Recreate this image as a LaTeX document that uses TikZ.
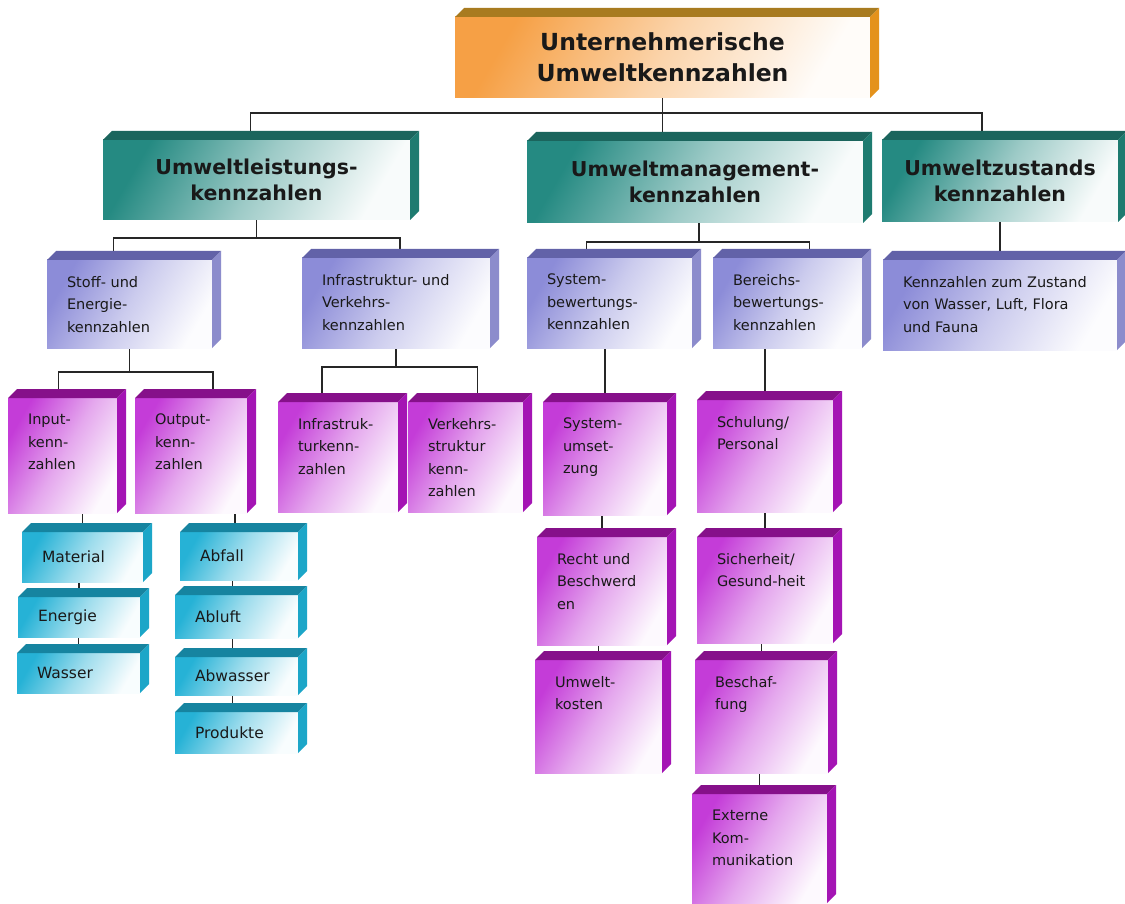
\documentclass[tikz,border=0pt]{standalone}
\usepackage{fontspec}
\setmainfont{DejaVu Sans}
\usetikzlibrary{calc,backgrounds}

\definecolor{orFront}{HTML}{F6A045}
\definecolor{orTop}{HTML}{A87B20}
\definecolor{orSide}{HTML}{E4921C}
\definecolor{teFront}{HTML}{258A82}
\definecolor{teTop}{HTML}{1B655D}
\definecolor{teSide}{HTML}{1E7B70}
\definecolor{lvFront}{HTML}{8C8CD8}
\definecolor{lvTop}{HTML}{6262A8}
\definecolor{lvSide}{HTML}{8C8CCC}
\definecolor{mgFront}{HTML}{C43CD8}
\definecolor{mgTop}{HTML}{86108A}
\definecolor{mgSide}{HTML}{A414B4}
\definecolor{cyFront}{HTML}{26B2D6}
\definecolor{cyTop}{HTML}{1684A0}
\definecolor{cySide}{HTML}{1CA6C8}

\begin{document}
\begin{tikzpicture}[x=1pt,y=-1pt,
	link/.style={draw=black!85, line width=1.7pt},
	face/.style={inner sep=0pt, outer sep=0pt, anchor=north west,
	  top color=#1, bottom color=#1!3!white, middle color=#1!45!white, shading angle=60},
	txt/.style={font=\fontsize{14.5}{22.5}\selectfont, text=black!90}]

	\useasboundingbox (0,0) rectangle (1125,904);

	\foreach \n/\xa/\ya/\xb/\yb/\col/\fs/\lbl in {
	    top/455/17/870/98/or/23.5/{Unternehmerische\\Umweltkennzahlen},
	    leist/103/140/410/220/te/20.5/{Umweltleistungs-\\kennzahlen},
	    mgmt/527/141/863/223/te/20.5/{Umweltmanagement-\\kennzahlen},
	    zust/882/140/1118/222/te/20.5/{Umweltzustands\\kennzahlen}}
	    {
		  \pgfmathsetmacro{\w}{\xb-\xa}%
		  \pgfmathsetmacro{\h}{\yb-\ya}%
		  \pgfmathsetmacro{\lh}{1.3*\fs}%
		  \node[face=\col Front, align=center, text=black!90,
		    font=\fontsize{\fs}{\lh}\selectfont\bfseries,
		    minimum width=\w pt, minimum height=\h pt] (\n) at (\xa,\ya) {\lbl};
		  \fill[\col Top] (\n.north west) -- ++(9,-9) -- ([shift={(9,-9)}]\n.north east) -- (\n.north east) -- cycle;
		  \fill[\col Side] (\n.north east) -- ++(9,-9) -- ([shift={(9,-9)}]\n.south east) -- (\n.south east) -- cycle;
	    }

	\foreach \n/\xa/\ya/\xb/\yb/\col/\lbl in {
	    stoff/47/260/212/348/lv/{Stoff- und\\Energie-\\kennzahlen},
	    infra/302/258/490/348/lv/{Infrastruktur- und\\Verkehrs-\\kennzahlen},
	    sysbew/527/258/692/348/lv/{System-\\bewertungs-\\kennzahlen},
	    berbew/713/258/862/348/lv/{Bereichs-\\bewertungs-\\kennzahlen},
	    kzust/883/260/1117/350/lv/{Kennzahlen zum Zustand\\von Wasser, Luft, Flora\\und Fauna},
	    input/8/398/117/513/mg/{Input-\\kenn-\\zahlen},
	    output/135/398/247/513/mg/{Output-\\kenn-\\zahlen},
	    infk/278/402/398/512/mg/{Infrastruk-\\turkenn-\\zahlen},
	    verk/408/402/523/512/mg/{Verkehrs-\\struktur\\kenn-\\zahlen},
	    sysums/543/402/667/515/mg/{System-\\umset-\\zung},
	    schul/697/400/833/512/mg/{Schulung/\\Personal},
	    recht/537/537/667/645/mg/{Recht und\\Beschwerd\\en},
	    sicher/697/537/833/643/mg/{Sicherheit/\\Gesund-heit},
	    ukost/535/660/662/773/mg/{Umwelt-\\kosten},
	    besch/695/660/828/773/mg/{Beschaf-\\fung},
	    extern/692/794/827/903/mg/{Externe\\Kom-\\munikation}}
	    {
		  \pgfmathsetmacro{\pw}{\xb-\xa-40}%
		  \pgfmathsetmacro{\ph}{\yb-\ya-32}%
		  \node[face=\col Front, txt, inner xsep=20pt, inner ysep=16pt] (\n) at (\xa,\ya)
		    {\parbox[t][\ph pt][t]{\pw pt}{\raggedright\lbl}};
		  \fill[\col Top] (\n.north west) -- ++(9,-9) -- ([shift={(9,-9)}]\n.north east) -- (\n.north east) -- cycle;
		  \fill[\col Side] (\n.north east) -- ++(9,-9) -- ([shift={(9,-9)}]\n.south east) -- (\n.south east) -- cycle;
	    }

	\foreach \n/\xa/\ya/\xb/\yb/\lbl in {
	    material/22/532/143/582/Material,
	    energie/18/597/140/637/Energie,
	    wasser/17/653/140/693/Wasser,
	    abfall/180/532/298/580/Abfall,
	    abluft/175/595/298/638/Abluft,
	    abwasser/175/657/298/695/Abwasser,
	    produkte/175/712/298/753/Produkte}
	    {
		  \pgfmathsetmacro{\pw}{\xb-\xa-40}%
		  \pgfmathsetmacro{\h}{\yb-\ya}%
		  \node[face=cyFront, txt, font=\fontsize{15.5}{20}\selectfont, inner xsep=20pt,
		    text width=\pw pt, minimum height=\h pt, align=left] (\n) at (\xa,\ya) {\lbl};
		  \fill[cyTop] (\n.north west) -- ++(9,-9) -- ([shift={(9,-9)}]\n.north east) -- (\n.north east) -- cycle;
		  \fill[cySide] (\n.north east) -- ++(9,-9) -- ([shift={(9,-9)}]\n.south east) -- (\n.south east) -- cycle;
	    }

	\begin{scope}[on background layer]
	  \fill[white] (0,0) rectangle (1125,904);
	  \coordinate (j0) at ([yshift=-15pt]top.south);
	  \draw[link] (top.south) -- (top.south |- mgmt.north);
	  \draw[link] ([xshift=-6pt]leist.north) |- (j0) -| ([xshift=-18pt]zust.north);
	  \draw[link] (leist.south) -- ++(0,18) coordinate (j1);
	  \draw[link] ([xshift=-16pt]stoff.north) |- (j1) -| ([xshift=4pt]infra.north);
	  \draw[link] ([xshift=4pt]mgmt.south) -- ++(0,19) coordinate (j2);
	  \draw[link] ([xshift=-23pt]sysbew.north) |- (j2) -| ([xshift=22pt]berbew.north);
	  \draw[link] (zust.south) -- (kzust.north);
	  \draw[link] (stoff.south) -- ++(0,24) coordinate (j3);
	  \draw[link] ([xshift=-4pt]input.north) |- (j3) -| ([xshift=22pt]output.north);
	  \draw[link] (infra.south) -- ++(0,19) coordinate (j4);
	  \draw[link] ([xshift=-16pt]infk.north) |- (j4) -| ([xshift=12pt]verk.north);
	  \foreach \a/\b in {sysbew/sysums, sysums/recht, recht/ukost, berbew/schul, schul/sicher,
	      sicher/besch, besch/extern, input/material, material/energie, energie/wasser}
	      \draw[link] (\b.north |- \a.south) -- (\b.north);
	  \foreach \a/\b in {output/abfall, abfall/abluft, abluft/abwasser, abwasser/produkte}
	      \draw[link] ([xshift=-4pt]\b.north |- \a.south) -- ([xshift=-4pt]\b.north);
	\end{scope}
\end{tikzpicture}
\end{document}
